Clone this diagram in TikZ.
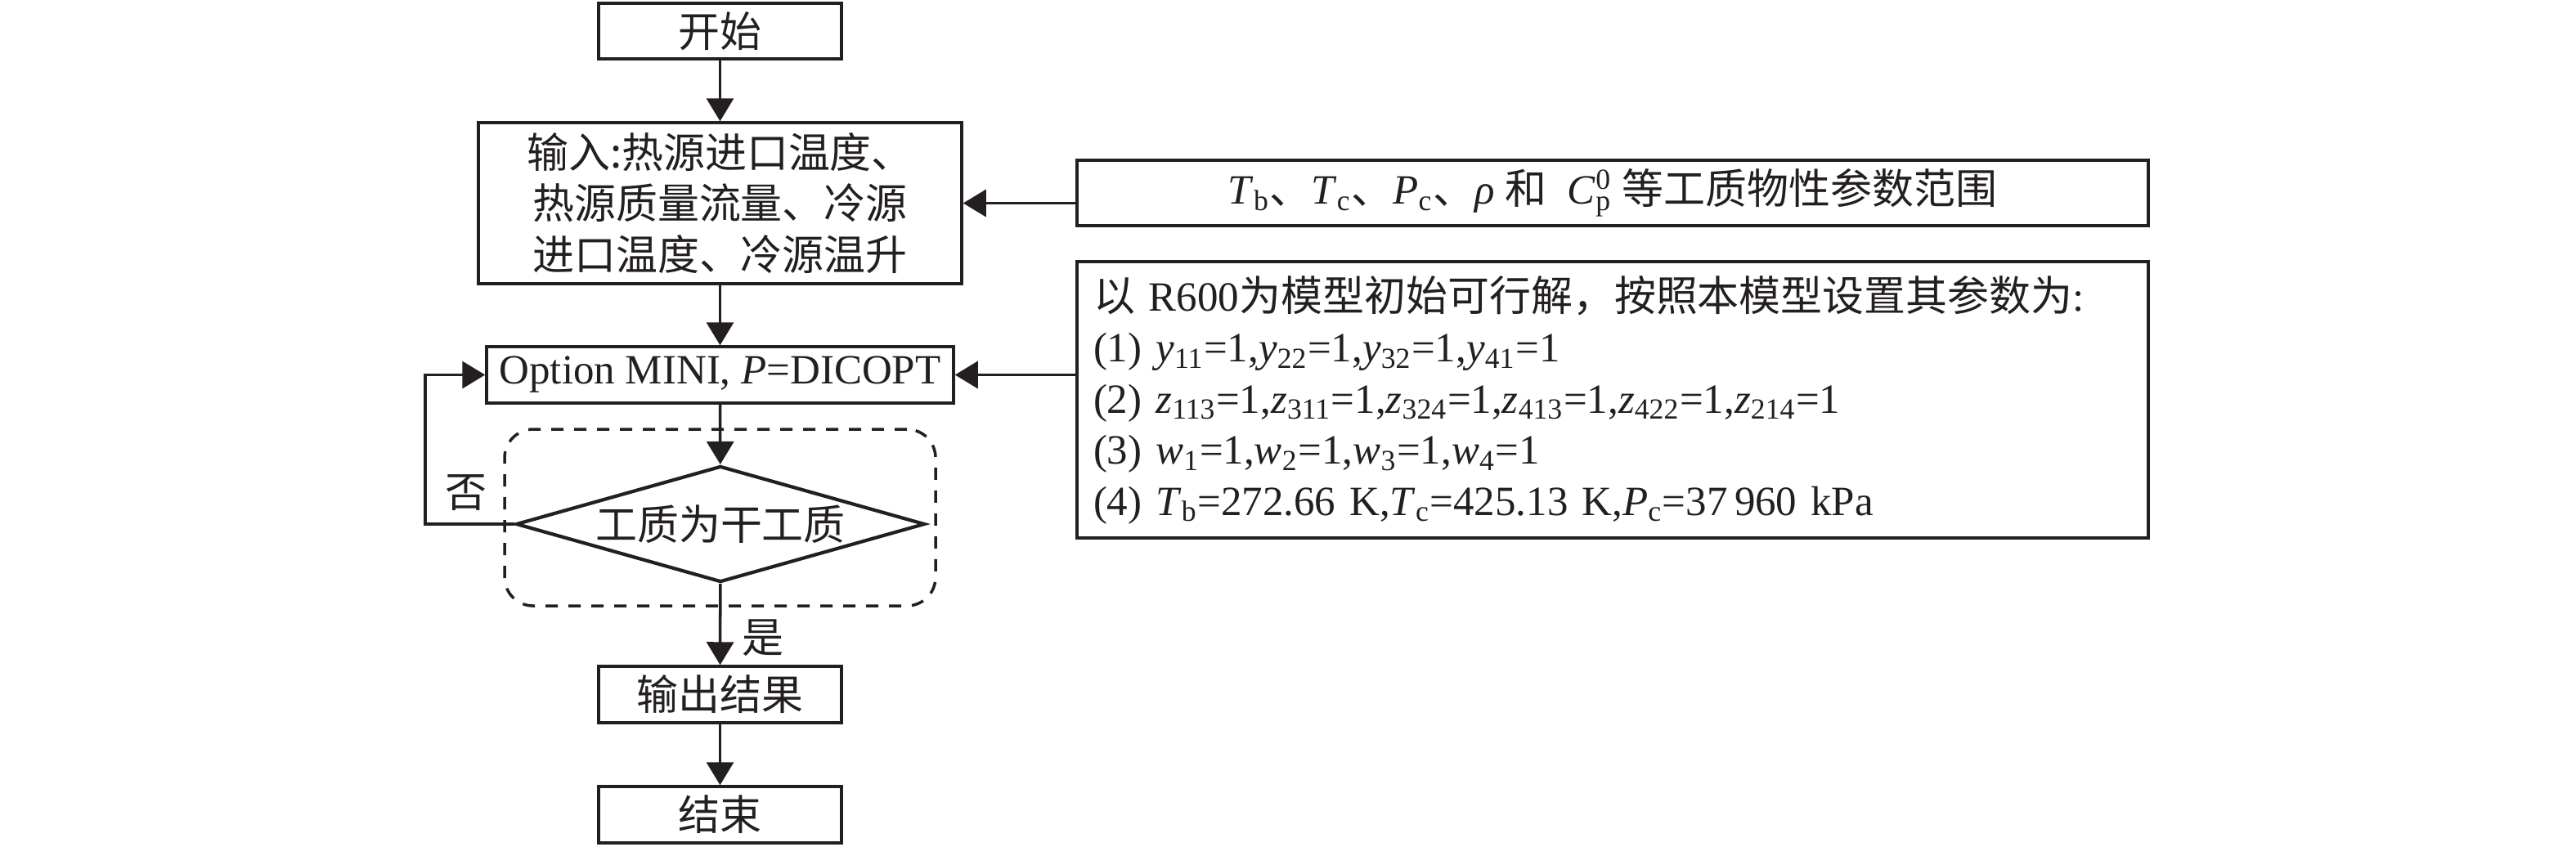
\documentclass[tikz,border=0pt]{standalone}
\usepackage{fontspec}
\setmainfont{Liberation Serif}
\newfontfamily\cjk{Noto Sans CJK SC}
\usetikzlibrary{arrows.meta,shapes.geometric}
\newcommand\sbs[1]{\textsubscript{#1}}
\definecolor{ink}{RGB}{35,31,32}
\begin{document}
\begin{tikzpicture}[
  every node/.style={font=\fontsize{14.5pt}{17.8pt}\selectfont, text=ink},
  box/.style={draw=ink, line width=1pt, rectangle, inner sep=0pt, align=center},
  arr/.style={draw=ink, line width=1pt, -{Triangle[width=0.33cm,length=0.28cm]}},
  grpbox/.style={draw=ink, line width=1pt, dash pattern=on 0.15cm off 0.13cm, rounded corners=0.35cm, inner sep=0pt},
  decision/.style={diamond, draw=ink, line width=1.2pt, inner sep=0pt, aspect=3.52},
  lbl/.style={inner sep=0pt}
]
\useasboundingbox (0,0) rectangle (31.5,-10.35);

% main column
\node[box, minimum width=2.97cm, minimum height=0.68cm] (start) at (8.805,-0.38) {\cjk 开始};
\node[box, minimum width=5.91cm, minimum height=1.97cm] (input) at (8.805,-2.485)
  {\cjk 输入:热源进口温度、\\ \cjk 热源质量流量、冷源\\ \cjk 进口温度、冷源温升};
\node[box, minimum width=5.71cm, minimum height=0.69cm] (opt) at (8.805,-4.585)
  {Option MINI, \textit{P}=DICOPT};
\node[grpbox, minimum width=5.27cm, minimum height=2.16cm] (grp) at (8.805,-6.33) {};
\node[decision, minimum width=5cm, minimum height=1.42cm] (dia) at (8.81,-6.41) {\cjk 工质为干工质};
\node[box, minimum width=2.97cm, minimum height=0.69cm] (out) at (8.805,-8.495) {\cjk 输出结果};
\node[box, minimum width=2.97cm, minimum height=0.69cm] (end) at (8.805,-9.965) {\cjk 结束};

% right boxes
\node[box, minimum width=13.10cm, minimum height=0.80cm] (param) at (19.72,-2.36)
  {\textit{T}\sbs{b}{\cjk 、}\textit{T}\sbs{c}{\cjk 、}\textit{P}\sbs{c}{\cjk 、}\textit{ρ} {\cjk 和}\ \ \textit{C}\rlap{\textsuperscript{0}}\sbs{p} {\cjk 等工质物性参数范围}};
\node[box, align=left, text width=12.7cm, inner xsep=0.2cm, minimum height=3.38cm] (rules) at (19.72,-4.89)
  {{\cjk 以} R600{\cjk 为模型初始可行解，按照本模型设置其参数为}:\\
   (1) \textit{y}\sbs{11}=1,\textit{y}\sbs{22}=1,\textit{y}\sbs{32}=1,\textit{y}\sbs{41}=1\\
   (2) \textit{z}\sbs{113}=1,\textit{z}\sbs{311}=1,\textit{z}\sbs{324}=1,\textit{z}\sbs{413}=1,\textit{z}\sbs{422}=1,\textit{z}\sbs{214}=1\\
   (3) \textit{w}\sbs{1}=1,\textit{w}\sbs{2}=1,\textit{w}\sbs{3}=1,\textit{w}\sbs{4}=1\\
   (4) \textit{T}\sbs{b}=272.66 K,\textit{T}\sbs{c}=425.13 K,\textit{P}\sbs{c}=37\,960 kPa};

% connectors
\draw[arr] (start) -- (input);
\draw[arr] (input) -- (opt);
\draw[arr] (opt) -- (dia);
\draw[arr] (dia) -- (out);
\draw[arr] (out) -- (end);
\draw[arr] (dia.west) -- ++(-1.09,0) |- (opt.west);
\draw[arr] (param.west |- input.east) -- (input.east);
\draw[arr] (rules.west |- opt.east) -- (opt.east);

% labels
\node[lbl] (no) at (5.70,-6.03) {\cjk 否};
\node[lbl] (yes) at (9.33,-7.80) {\cjk 是};
\end{tikzpicture}
\end{document}
